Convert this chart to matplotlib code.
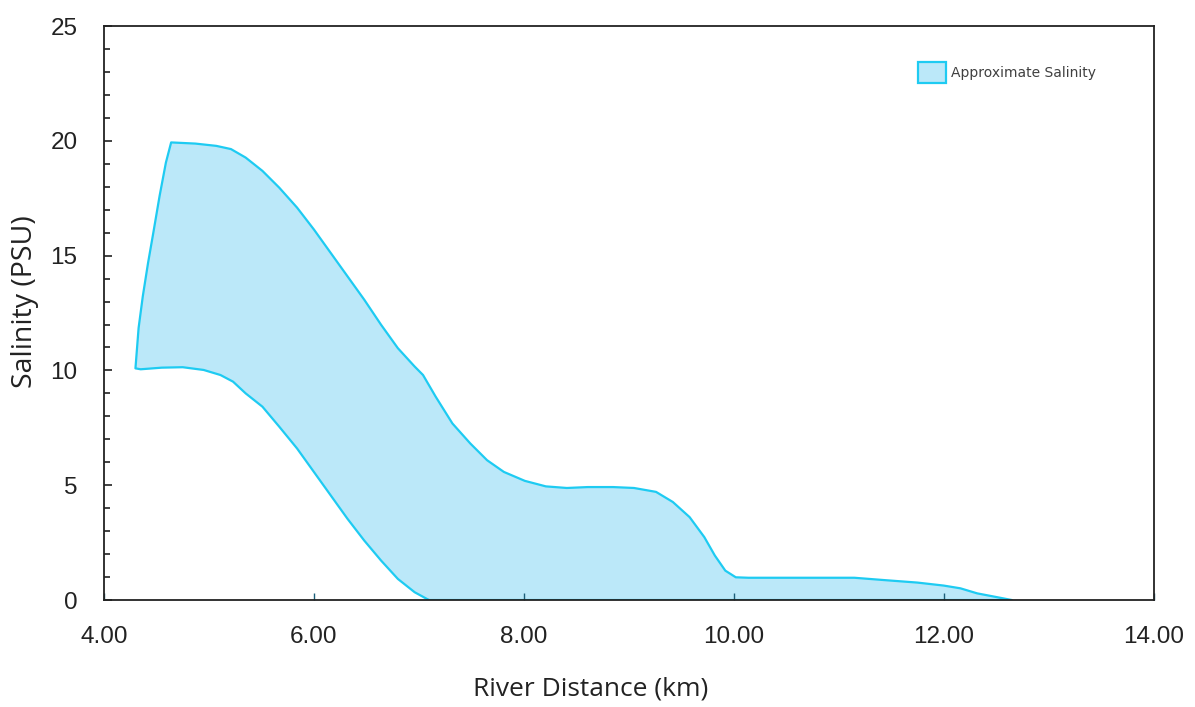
import numpy as np
import matplotlib
matplotlib.use("Agg")
import matplotlib.pyplot as plt
from matplotlib.ticker import MultipleLocator, FormatStrFormatter

# Upper boundary of the salinity band (km, PSU)
upper_x = [4.30, 4.33, 4.37, 4.42, 4.47, 4.53, 4.59, 4.64, 4.87, 5.07, 5.21,
           5.35, 5.51, 5.67, 5.84, 6.00, 6.16, 6.32, 6.48, 6.64, 6.80, 6.96,
           7.04, 7.16, 7.32, 7.49, 7.65, 7.81, 8.01, 8.21, 8.41, 8.61, 8.85,
           9.05, 9.26, 9.42, 9.58, 9.72, 9.82, 9.92, 10.02, 10.14, 11.15, 11.43,
           11.75, 12.00, 12.16, 12.32, 12.48, 12.65]
upper_y = [10.09, 11.85, 13.23, 14.68, 15.99, 17.60, 19.05, 19.93, 19.88, 19.78, 19.64,
           19.27, 18.69, 17.96, 17.09, 16.14, 15.12, 14.10, 13.08, 11.99, 10.97, 10.17,
           9.80, 8.86, 7.69, 6.82, 6.09, 5.58, 5.19, 4.95, 4.88, 4.92, 4.92,
           4.88, 4.71, 4.27, 3.61, 2.74, 1.94, 1.28, 0.99, 0.97, 0.97, 0.87,
           0.76, 0.63, 0.51, 0.29, 0.15, 0.0]

# Lower boundary of the salinity band
lower_x = [4.30, 4.35, 4.55, 4.75, 4.95, 5.11, 5.23, 5.35, 5.51, 5.67, 5.84,
           6.00, 6.16, 6.32, 6.48, 6.64, 6.80, 6.96, 7.08, 7.10, 12.65]
lower_y = [10.09, 10.05, 10.12, 10.14, 10.02, 9.80, 9.51, 9.00, 8.42, 7.55, 6.60,
           5.58, 4.56, 3.54, 2.59, 1.72, 0.92, 0.34, 0.04, 0.0, 0.0]

fill_color = "#BBE8F9"
edge_color = "#1ECBF2"

fig = plt.figure(figsize=(11.95, 7.07), dpi=100)
ax = fig.add_axes([0.087, 0.1513, 0.8783, 0.8119])

poly_x = upper_x + lower_x[::-1]
poly_y = upper_y + lower_y[::-1]
ax.fill(poly_x, poly_y, facecolor=fill_color, edgecolor=edge_color,
        linewidth=1.6, joinstyle="round", label="Approximate Salinity", zorder=1)

ax.set_xlim(4, 14)
ax.set_ylim(0, 25)
ax.xaxis.set_major_locator(MultipleLocator(2))
ax.xaxis.set_major_formatter(FormatStrFormatter("%.2f"))
ax.yaxis.set_major_locator(MultipleLocator(5))
ax.yaxis.set_minor_locator(MultipleLocator(1))

tick_font = "Liberation Sans"
ax.tick_params(axis="y", which="major", direction="in", length=6, width=1.2,
               pad=19, labelsize=17.5, color="#222222")
ax.tick_params(axis="y", which="minor", direction="in", length=4, width=1.2,
               color="#222222")
ax.tick_params(axis="x", which="major", direction="in", length=5, width=1.0,
               pad=19, labelsize=17.5, color="#1a5f7a")
for lbl in ax.get_xticklabels() + ax.get_yticklabels():
    lbl.set_fontfamily(tick_font)
    lbl.set_color("#222222")

for sp in ax.spines.values():
    sp.set_linewidth(1.3)
    sp.set_color("#222222")

ax.set_xlabel("River Distance (km)", fontsize=19, fontfamily="Open Sans", color="#222222")
ax.set_ylabel("Salinity (PSU)", fontsize=20.5, fontfamily="Open Sans", color="#222222")
ax.xaxis.set_label_coords(0.464, -0.133)
ax.yaxis.set_label_coords(-0.062, 0.519)

ax.legend(loc="upper left", bbox_to_anchor=(0.776, 0.937), frameon=False,
          borderpad=0, borderaxespad=0, handlelength=1.95, handleheight=1.95,
          handletextpad=0.4, prop={"family": "DejaVu Sans", "size": 10},
          labelcolor="#404040")

fig.savefig("out.png", dpi=100)
